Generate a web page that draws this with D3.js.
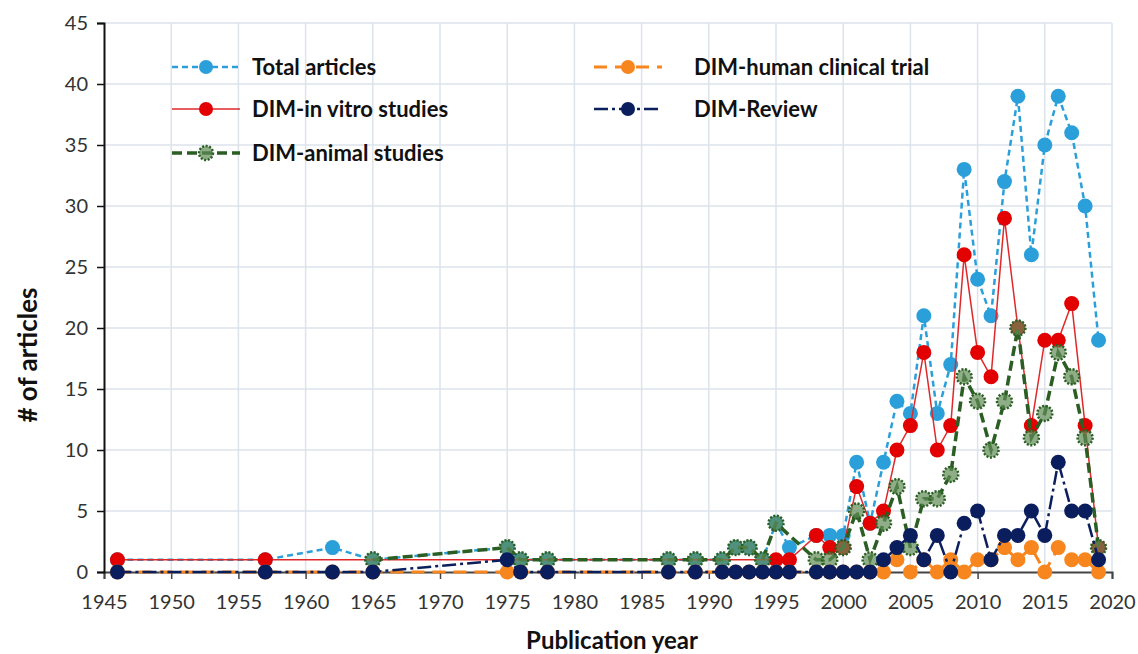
<!DOCTYPE html>
<html>
<head>
<meta charset="utf-8">
<script src="https://cdn.jsdelivr.net/npm/d3@7"></script>
<style>
  body { margin: 0; background: #fff; }
  svg { display: block; }
</style>
</head>
<body>
<div id="main-container"></div>
<script>
// DATA
const totalYears = [1946,1957,1962,1965,1975,1976,1978,1987,1989,1991,1992,1993,1994,1995,1996,1998,1999,2000,2001,2002,2003,2004,2005,2006,2007,2008,2009,2010,2011,2012,2013,2014,2015,2016,2017,2018,2019];
const totalCounts = [1,1,2,1,2,1,1,1,1,1,2,2,1,4,2,3,3,3,9,4,9,14,13,21,13,17,33,24,21,32,39,26,35,39,36,30,19];

const vitroYears = [1946,1957,1995,1996,1998,1999,2000,2001,2002,2003,2004,2005,2006,2007,2008,2009,2010,2011,2012,2013,2014,2015,2016,2017,2018,2019];
const vitroCounts = [1,1,1,1,3,2,2,7,4,5,10,12,18,10,12,26,18,16,29,20,12,19,19,22,12,2];

const animalYears = [1965,1975,1976,1978,1987,1989,1991,1992,1993,1994,1995,1998,1999,2000,2001,2002,2003,2004,2005,2006,2007,2008,2009,2010,2011,2012,2013,2014,2015,2016,2017,2018,2019];
const animalCounts = [1,2,1,1,1,1,1,2,2,1,4,1,1,2,5,1,4,7,2,6,6,8,16,14,10,14,20,11,13,18,16,11,2];

const humanYears = totalYears;
const humanCounts = [0,0,0,0,0,0,0,0,0,0,0,0,0,0,0,0,0,0,0,0,0,1,0,1,0,1,0,1,1,2,1,2,0,2,1,1,0];

const reviewYears = totalYears;
const reviewCounts = [0,0,0,0,1,0,0,0,0,0,0,0,0,0,0,0,0,0,0,0,1,2,3,1,3,0,4,5,1,3,3,5,3,9,5,5,1];

const yTicks = [0,5,10,15,20,25,30,35,40,45];
const xTicks = [1945,1950,1955,1960,1965,1970,1975,1980,1985,1990,1995,2000,2005,2010,2015,2020];

// SERIES STYLES
const series = [
    {name: "Total articles", years: totalYears, counts: totalCounts,
     line: "#2b9fd9", width: 2.5, dash: "6,4", fill: "#2b9fd9", legend: [172, 67], textX: 80},
    {name: "DIM-in vitro studies", years: vitroYears, counts: vitroCounts,
     line: "#e0282a", width: 1.5, dash: null, fill: "#e30000", legend: [172, 109], textX: 80},
    {name: "DIM-animal studies", years: animalYears, counts: animalCounts,
     line: "#2a5e23", width: 3.5, dash: "10,5", fill: "#5f8c55", animal: true, legend: [172, 153], textX: 80},
    {name: "DIM-human clinical trial", years: humanYears, counts: humanCounts,
     line: "#f7861e", width: 3, dash: "13,8", fill: "#f7861e", legend: [594, 67], textX: 100},
    {name: "DIM-Review", years: reviewYears, counts: reviewCounts,
     line: "#0b1f5c", width: 2.5, dash: "14,4,3,4", fill: "#0a1e5e", legend: [594, 109], textX: 100}
];

// DRAWING SETUP
const W = 1138, H = 654;
const x = d3.scaleLinear().domain([1945, 2020]).range([104, 1112]);
const y = d3.scaleLinear().domain([0, 45]).range([572, 23]);

const svg = d3.select("#main-container").append("svg")
    .attr("width", W)
    .attr("height", H)
    .style("font-family", "Lato, 'Open Sans', sans-serif");

// grid
svg.append("g")
    .selectAll("line")
    .data(yTicks.slice(1))
    .enter().append("line")
    .attr("x1", x(1945)).attr("x2", x(2020))
    .attr("y1", d => y(d)).attr("y2", d => y(d))
    .style("stroke", "#dce3eb").style("stroke-width", 1.5);

svg.append("g")
    .selectAll("line")
    .data(xTicks.slice(1))
    .enter().append("line")
    .attr("x1", d => x(d)).attr("x2", d => x(d))
    .attr("y1", y(0)).attr("y2", y(45))
    .style("stroke", "#dce3eb").style("stroke-width", 1.5);

// axes
const xAxis = svg.append("g")
    .attr("transform", `translate(0,${y(0)})`)
    .call(d3.axisBottom(x).tickValues(xTicks).tickFormat(d3.format("d")).tickSize(7).tickPadding(16));
xAxis.select(".domain").style("stroke", "#444").style("stroke-width", 2);
xAxis.selectAll(".tick line").style("stroke", "#444").style("stroke-width", 1.5);
xAxis.selectAll("text").style("font-size", "20px").style("fill", "#333").style("font-family", "Lato, sans-serif");

const yAxis = svg.append("g")
    .attr("transform", `translate(${x(1945)},0)`)
    .call(d3.axisLeft(y).tickValues(yTicks).tickSize(7).tickPadding(9));
yAxis.select(".domain").style("stroke", "#111").style("stroke-width", 2);
yAxis.selectAll(".tick line").style("stroke", "#111").style("stroke-width", 1.5);
yAxis.selectAll("text").style("font-size", "20px").style("fill", "#333").style("font-family", "Lato, sans-serif");

// axis titles
svg.append("text")
    .attr("transform", "translate(37,355) rotate(-90)")
    .attr("text-anchor", "middle")
    .style("font-size", "26px").style("font-weight", "bold").style("fill", "#111")
    .text("# of articles");

svg.append("text")
    .attr("x", 612).attr("y", 649)
    .attr("text-anchor", "middle")
    .style("font-size", "24px").style("font-weight", "bold").style("fill", "#111")
    .text("Publication year");

// lines + markers
const lineGen = d3.line().x(d => x(d[0])).y(d => y(d[1]));

function drawMarker(sel, s, r) {
    if (s.animal) {
        sel.append("circle")
            .attr("r", r)
            .style("fill", s.fill).style("fill-opacity", 0.7)
            .style("stroke", "#2a5e23").style("stroke-width", 2.5)
            .style("stroke-dasharray", "2,1.6");
    } else {
        sel.append("circle")
            .attr("r", r)
            .style("fill", s.fill);
    }
}

for (let s of series) {
    const pts = s.years.map((yr, i) => [yr, s.counts[i]]);
    const g = svg.append("g").attr("class", "series");
    g.append("path")
        .datum(pts)
        .attr("d", lineGen)
        .style("fill", "none")
        .style("stroke", s.line)
        .style("stroke-width", s.width)
        .style("stroke-dasharray", s.dash);

    const m = g.selectAll(".pt")
        .data(pts)
        .enter().append("g")
        .attr("class", "pt")
        .attr("transform", d => `translate(${x(d[0])},${y(d[1])})`);
    drawMarker(m, s, 7.5);
}

// legend
for (let s of series) {
    const [lx, ly] = s.legend;
    const lg = svg.append("g").attr("transform", `translate(${lx},${ly})`);
    lg.append("line")
        .attr("x1", 0).attr("x2", 68)
        .style("stroke", s.line)
        .style("stroke-width", s.width)
        .style("stroke-dasharray", s.dash);
    const mk = lg.append("g").attr("transform", "translate(34,0)");
    drawMarker(mk, s, 7);
    lg.append("text")
        .attr("x", s.textX)
        .attr("dy", "0.35em")
        .style("font-size", "22px").style("font-weight", "bold").style("fill", "#111")
        .text(s.name);
}
</script>
</body>
</html>
